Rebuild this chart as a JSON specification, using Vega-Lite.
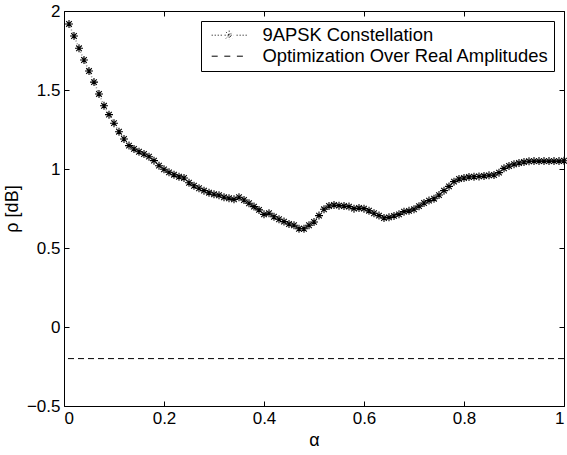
{
  "$schema": "https://vega.github.io/schema/vega-lite/v6.json",
  "width": 500,
  "height": 395,
  "autosize": {"type": "none"},
  "padding": {"left": 64, "top": 11, "right": 3, "bottom": 49},
  "background": "white",
  "config": {
    "view": {"stroke": "black", "strokeWidth": 1},
    "font": "Liberation Sans",
    "axis": {
      "grid": false,
      "domain": false,
      "tickColor": "black",
      "tickSize": -5,
      "tickWidth": 1,
      "labelColor": "black",
      "labelFont": "Liberation Sans",
      "labelFontSize": 17,
      "labelPadding": 9,
      "titleFont": "Liberation Sans",
      "titleFontSize": 18,
      "titleFontWeight": "normal",
      "titleColor": "black",
      "format": "~g"
    },
    "legend": {
      "title": null,
      "orient": "top-right",
      "offset": 10,
      "padding": 5,
      "strokeColor": "black",
      "fillColor": "white",
      "cornerRadius": 0,
      "labelFont": "Liberation Sans",
      "labelFontSize": 18.4,
      "labelColor": "black",
      "labelLimit": 600,
      "labelOffset": 24,
      "symbolOffset": 14,
      "rowPadding": 2,
      "symbolSize": 196,
      "symbolStrokeWidth": 1,
      "symbolStrokeColor": "black"
    }
  },
  "datasets": {
    "curve": [
      {"series": "9APSK Constellation", "alpha": 0.01, "rho": 1.918},
      {"series": "9APSK Constellation", "alpha": 0.02, "rho": 1.842},
      {"series": "9APSK Constellation", "alpha": 0.03, "rho": 1.764},
      {"series": "9APSK Constellation", "alpha": 0.04, "rho": 1.69},
      {"series": "9APSK Constellation", "alpha": 0.05, "rho": 1.62},
      {"series": "9APSK Constellation", "alpha": 0.06, "rho": 1.55},
      {"series": "9APSK Constellation", "alpha": 0.07, "rho": 1.475},
      {"series": "9APSK Constellation", "alpha": 0.08, "rho": 1.4},
      {"series": "9APSK Constellation", "alpha": 0.09, "rho": 1.344},
      {"series": "9APSK Constellation", "alpha": 0.1, "rho": 1.29},
      {"series": "9APSK Constellation", "alpha": 0.11, "rho": 1.236},
      {"series": "9APSK Constellation", "alpha": 0.12, "rho": 1.19},
      {"series": "9APSK Constellation", "alpha": 0.13, "rho": 1.148},
      {"series": "9APSK Constellation", "alpha": 0.14, "rho": 1.127},
      {"series": "9APSK Constellation", "alpha": 0.15, "rho": 1.109},
      {"series": "9APSK Constellation", "alpha": 0.16, "rho": 1.095},
      {"series": "9APSK Constellation", "alpha": 0.17, "rho": 1.078},
      {"series": "9APSK Constellation", "alpha": 0.18, "rho": 1.053},
      {"series": "9APSK Constellation", "alpha": 0.19, "rho": 1.021},
      {"series": "9APSK Constellation", "alpha": 0.2, "rho": 0.998},
      {"series": "9APSK Constellation", "alpha": 0.21, "rho": 0.979},
      {"series": "9APSK Constellation", "alpha": 0.22, "rho": 0.964},
      {"series": "9APSK Constellation", "alpha": 0.23, "rho": 0.951},
      {"series": "9APSK Constellation", "alpha": 0.24, "rho": 0.943},
      {"series": "9APSK Constellation", "alpha": 0.25, "rho": 0.913},
      {"series": "9APSK Constellation", "alpha": 0.26, "rho": 0.894},
      {"series": "9APSK Constellation", "alpha": 0.27, "rho": 0.878},
      {"series": "9APSK Constellation", "alpha": 0.28, "rho": 0.863},
      {"series": "9APSK Constellation", "alpha": 0.29, "rho": 0.85},
      {"series": "9APSK Constellation", "alpha": 0.3, "rho": 0.84},
      {"series": "9APSK Constellation", "alpha": 0.31, "rho": 0.834},
      {"series": "9APSK Constellation", "alpha": 0.32, "rho": 0.821},
      {"series": "9APSK Constellation", "alpha": 0.33, "rho": 0.815},
      {"series": "9APSK Constellation", "alpha": 0.34, "rho": 0.808},
      {"series": "9APSK Constellation", "alpha": 0.35, "rho": 0.821},
      {"series": "9APSK Constellation", "alpha": 0.36, "rho": 0.804},
      {"series": "9APSK Constellation", "alpha": 0.37, "rho": 0.783},
      {"series": "9APSK Constellation", "alpha": 0.38, "rho": 0.762},
      {"series": "9APSK Constellation", "alpha": 0.39, "rho": 0.741},
      {"series": "9APSK Constellation", "alpha": 0.4, "rho": 0.713},
      {"series": "9APSK Constellation", "alpha": 0.41, "rho": 0.72},
      {"series": "9APSK Constellation", "alpha": 0.42, "rho": 0.698},
      {"series": "9APSK Constellation", "alpha": 0.43, "rho": 0.682},
      {"series": "9APSK Constellation", "alpha": 0.44, "rho": 0.667},
      {"series": "9APSK Constellation", "alpha": 0.45, "rho": 0.652},
      {"series": "9APSK Constellation", "alpha": 0.46, "rho": 0.644},
      {"series": "9APSK Constellation", "alpha": 0.47, "rho": 0.622},
      {"series": "9APSK Constellation", "alpha": 0.48, "rho": 0.622},
      {"series": "9APSK Constellation", "alpha": 0.49, "rho": 0.644},
      {"series": "9APSK Constellation", "alpha": 0.5, "rho": 0.665},
      {"series": "9APSK Constellation", "alpha": 0.51, "rho": 0.705},
      {"series": "9APSK Constellation", "alpha": 0.52, "rho": 0.745},
      {"series": "9APSK Constellation", "alpha": 0.53, "rho": 0.766},
      {"series": "9APSK Constellation", "alpha": 0.54, "rho": 0.772},
      {"series": "9APSK Constellation", "alpha": 0.55, "rho": 0.768},
      {"series": "9APSK Constellation", "alpha": 0.56, "rho": 0.766},
      {"series": "9APSK Constellation", "alpha": 0.57, "rho": 0.762},
      {"series": "9APSK Constellation", "alpha": 0.58, "rho": 0.749},
      {"series": "9APSK Constellation", "alpha": 0.59, "rho": 0.753},
      {"series": "9APSK Constellation", "alpha": 0.6, "rho": 0.749},
      {"series": "9APSK Constellation", "alpha": 0.61, "rho": 0.736},
      {"series": "9APSK Constellation", "alpha": 0.62, "rho": 0.72},
      {"series": "9APSK Constellation", "alpha": 0.63, "rho": 0.705},
      {"series": "9APSK Constellation", "alpha": 0.64, "rho": 0.69},
      {"series": "9APSK Constellation", "alpha": 0.65, "rho": 0.694},
      {"series": "9APSK Constellation", "alpha": 0.66, "rho": 0.703},
      {"series": "9APSK Constellation", "alpha": 0.67, "rho": 0.713},
      {"series": "9APSK Constellation", "alpha": 0.68, "rho": 0.73},
      {"series": "9APSK Constellation", "alpha": 0.69, "rho": 0.735},
      {"series": "9APSK Constellation", "alpha": 0.7, "rho": 0.745},
      {"series": "9APSK Constellation", "alpha": 0.71, "rho": 0.765},
      {"series": "9APSK Constellation", "alpha": 0.72, "rho": 0.785},
      {"series": "9APSK Constellation", "alpha": 0.73, "rho": 0.8},
      {"series": "9APSK Constellation", "alpha": 0.74, "rho": 0.812},
      {"series": "9APSK Constellation", "alpha": 0.75, "rho": 0.835},
      {"series": "9APSK Constellation", "alpha": 0.76, "rho": 0.863},
      {"series": "9APSK Constellation", "alpha": 0.77, "rho": 0.89},
      {"series": "9APSK Constellation", "alpha": 0.78, "rho": 0.92},
      {"series": "9APSK Constellation", "alpha": 0.79, "rho": 0.937},
      {"series": "9APSK Constellation", "alpha": 0.8, "rho": 0.943},
      {"series": "9APSK Constellation", "alpha": 0.81, "rho": 0.949},
      {"series": "9APSK Constellation", "alpha": 0.82, "rho": 0.951},
      {"series": "9APSK Constellation", "alpha": 0.83, "rho": 0.953},
      {"series": "9APSK Constellation", "alpha": 0.84, "rho": 0.956},
      {"series": "9APSK Constellation", "alpha": 0.85, "rho": 0.96},
      {"series": "9APSK Constellation", "alpha": 0.86, "rho": 0.962},
      {"series": "9APSK Constellation", "alpha": 0.87, "rho": 0.977},
      {"series": "9APSK Constellation", "alpha": 0.88, "rho": 1.004},
      {"series": "9APSK Constellation", "alpha": 0.89, "rho": 1.019},
      {"series": "9APSK Constellation", "alpha": 0.9, "rho": 1.03},
      {"series": "9APSK Constellation", "alpha": 0.91, "rho": 1.038},
      {"series": "9APSK Constellation", "alpha": 0.92, "rho": 1.044},
      {"series": "9APSK Constellation", "alpha": 0.93, "rho": 1.049},
      {"series": "9APSK Constellation", "alpha": 0.94, "rho": 1.05},
      {"series": "9APSK Constellation", "alpha": 0.95, "rho": 1.05},
      {"series": "9APSK Constellation", "alpha": 0.96, "rho": 1.05},
      {"series": "9APSK Constellation", "alpha": 0.97, "rho": 1.05},
      {"series": "9APSK Constellation", "alpha": 0.98, "rho": 1.05},
      {"series": "9APSK Constellation", "alpha": 0.99, "rho": 1.05},
      {"series": "9APSK Constellation", "alpha": 1.0, "rho": 1.052}
    ],
    "opt": [
      {"series": "Optimization Over Real Amplitudes", "rho": -0.2}
    ]
  },
  "layer": [
    {
      "data": {"name": "curve"},
      "mark": {"type": "line", "strokeWidth": 1.5, "stroke": "#909090"},
      "encoding": {
        "x": {
          "field": "alpha", "type": "quantitative",
          "scale": {"domain": [0, 1], "nice": false, "zero": false},
          "axis": {"orient": "bottom", "values": [0, 0.2, 0.4, 0.6, 0.8, 1], "title": "α", "titlePadding": 5}
        },
        "y": {
          "field": "rho", "type": "quantitative",
          "scale": {"domain": [-0.5, 2], "nice": false, "zero": false},
          "axis": {"orient": "left", "values": [-0.5, 0, 0.5, 1, 1.5, 2], "title": "ρ [dB]", "titlePadding": 5}
        },
        "strokeDash": {
          "field": "series", "type": "nominal",
          "scale": {"domain": ["9APSK Constellation", "Optimization Over Real Amplitudes"], "range": [[1, 2], [6, 4]]},
          "legend": {
            "encode": {
              "symbols": {
                "update": {
                  "shape": {"signal": "datum.value === '9APSK Constellation' ? 'M-2.5,0h0.15M-2.07,0h0.15M-1.64,0h0.15M-1.21,0h0.15M1.06,0h0.15M1.49,0h0.15M1.92,0h0.15M2.35,0h0.15M0,-0.65V0.65M-0.65,0H0.65M-0.46,-0.46L0.46,0.46M-0.46,0.46L0.46,-0.46' : 'M-2.5,0H-1.4M-0.7,0H0.4M1.1,0H2.2'"},
                  "strokeDash": {"value": [1, 0]},
                  "stroke": {"value": "black"},
                  "fill": {"value": "transparent"}
                }
              }
            }
          }
        }
      }
    },
    {
      "data": {"name": "curve"},
      "mark": {"type": "point", "shape": "M0,-1V1M-1,0H1M-0.7,-0.7L0.7,0.7M-0.7,0.7L0.7,-0.7", "size": 64, "filled": false, "stroke": "black", "strokeWidth": 1.1, "opacity": 1},
      "encoding": {
        "x": {
          "field": "alpha", "type": "quantitative",
          "axis": {"orient": "top", "values": [0, 0.2, 0.4, 0.6, 0.8, 1], "labels": false, "title": null}
        },
        "y": {
          "field": "rho", "type": "quantitative",
          "axis": {"orient": "right", "values": [-0.5, 0, 0.5, 1, 1.5, 2], "labels": false, "title": null}
        }
      }
    },
    {
      "data": {"name": "opt"},
      "mark": {"type": "rule", "strokeWidth": 1, "stroke": "black"},
      "encoding": {
        "y": {"field": "rho", "type": "quantitative", "axis": null},
        "strokeDash": {"field": "series", "type": "nominal"}
      }
    }
  ],
  "resolve": {"axis": {"x": "independent", "y": "independent"}}
}
